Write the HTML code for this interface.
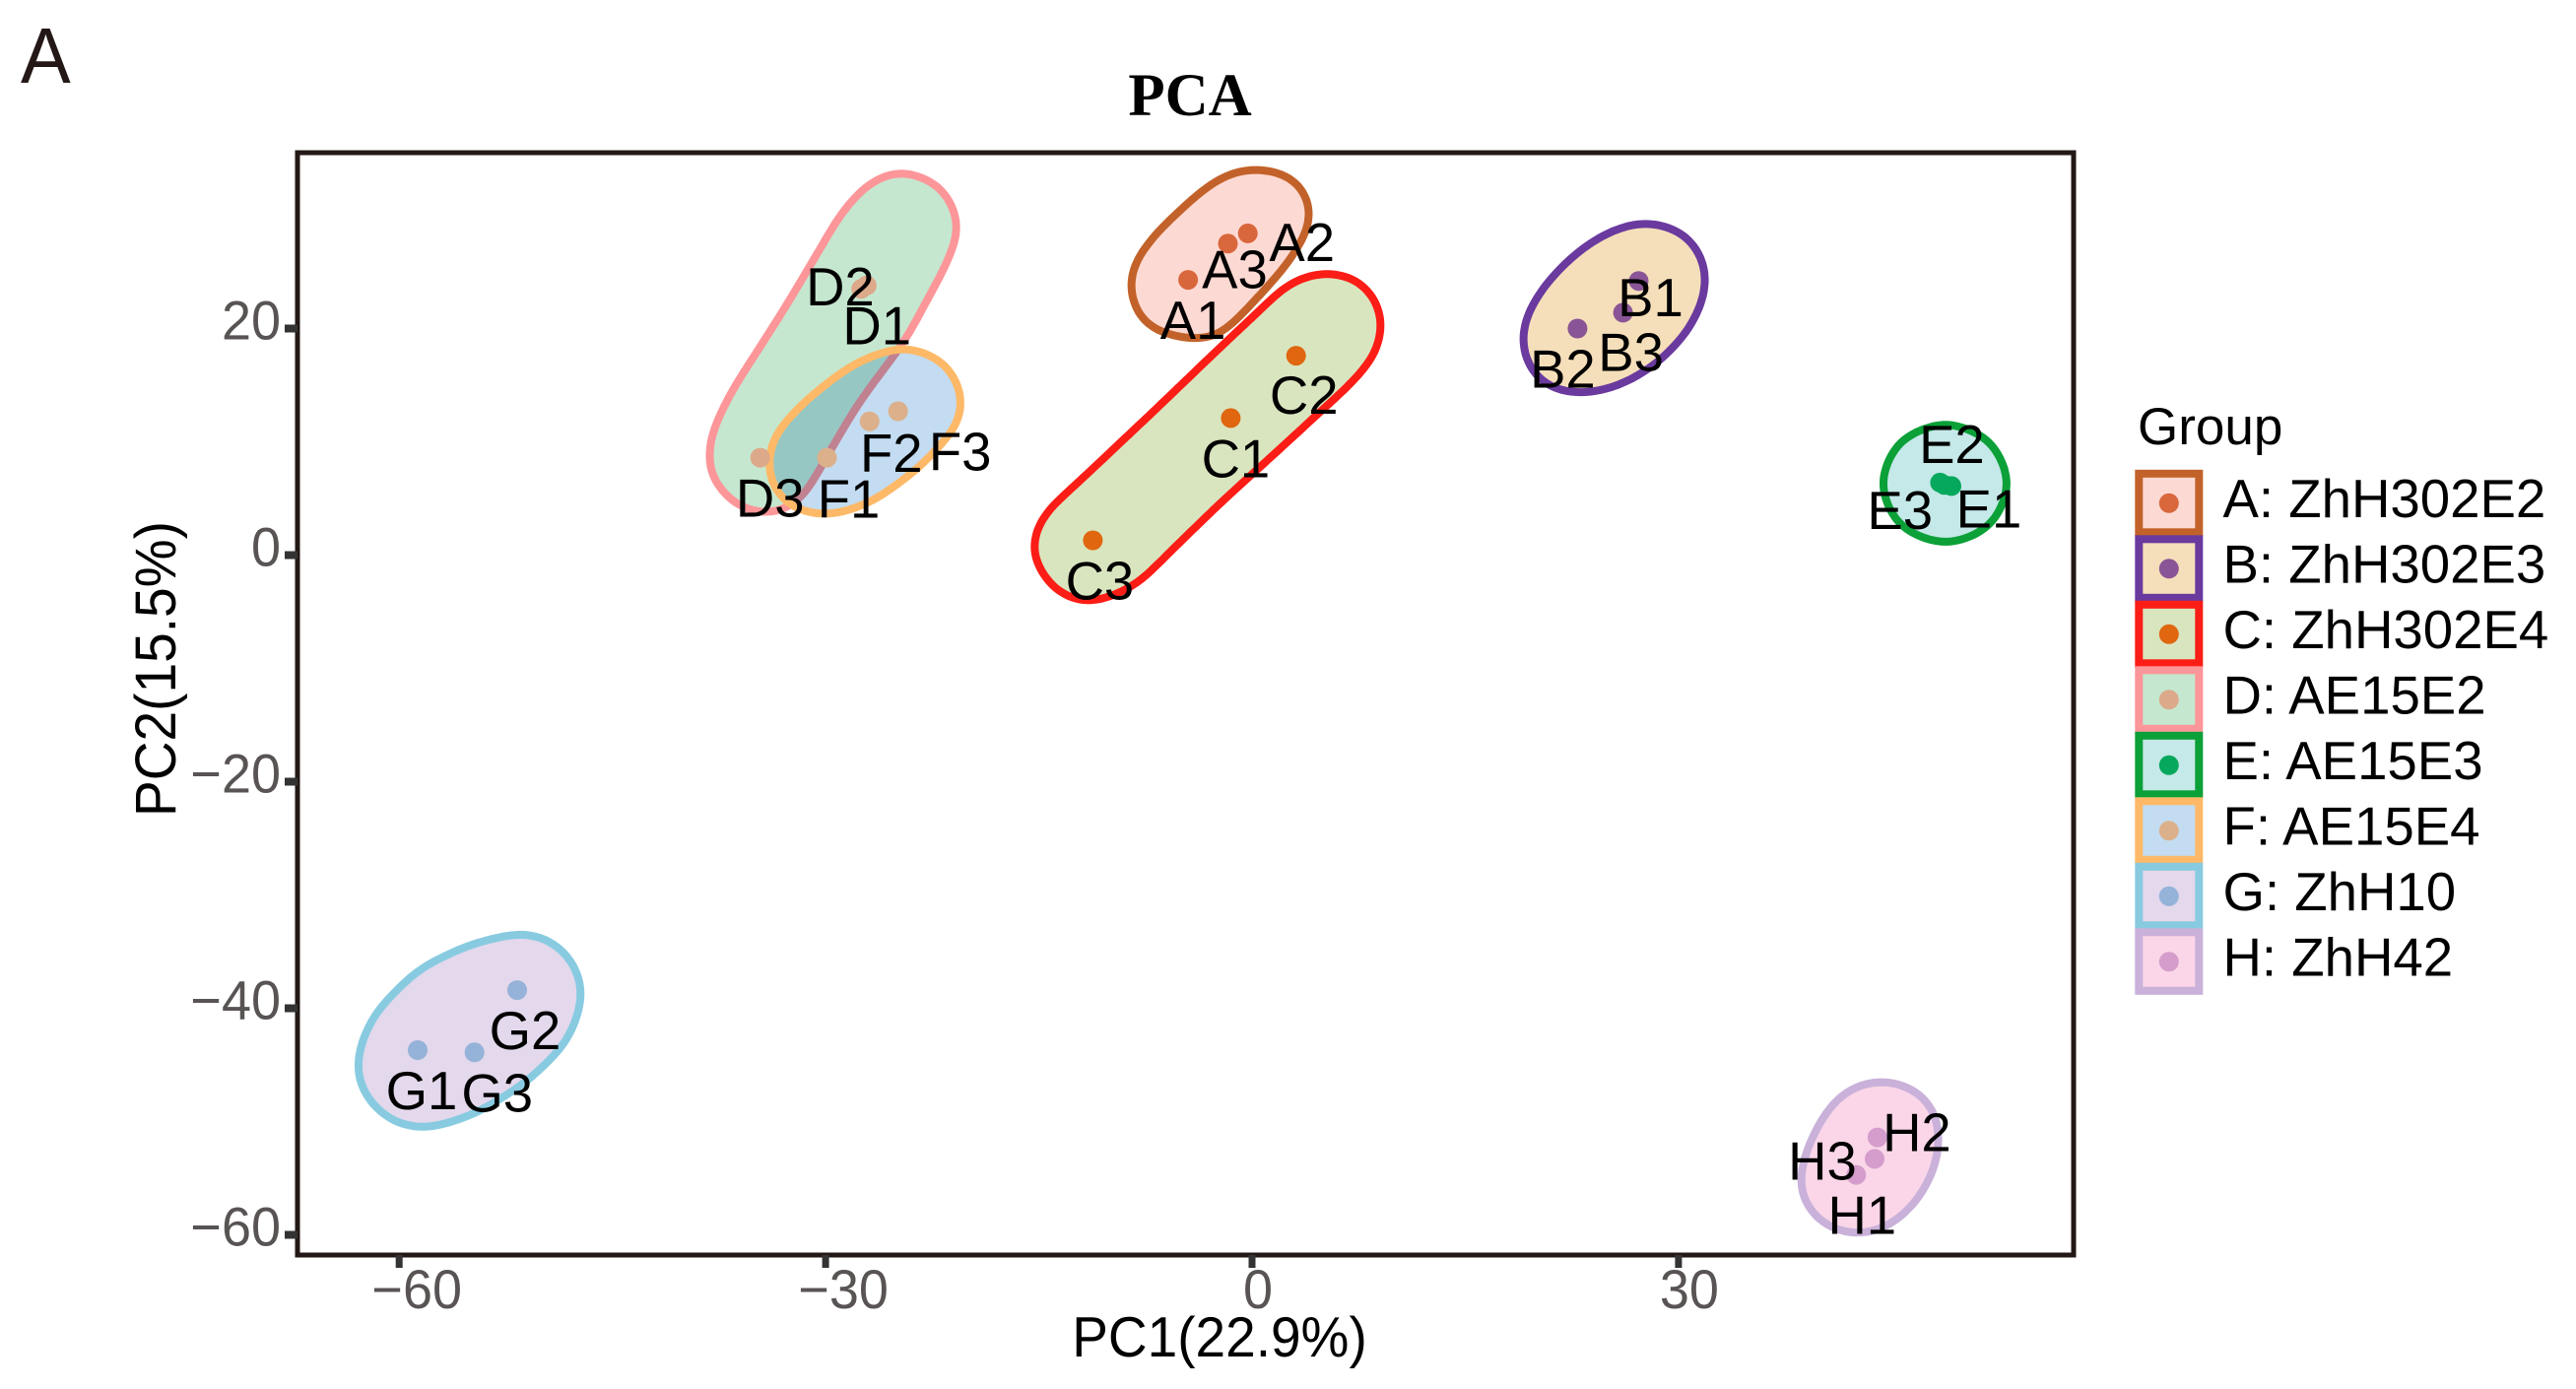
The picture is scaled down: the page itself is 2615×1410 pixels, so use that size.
<!DOCTYPE html>
<html lang="en">
<head>
<meta charset="utf-8">
<title>PCA</title>
<style>
html,body{margin:0;padding:0;background:#fff;width:2615px;height:1410px;overflow:hidden}
svg{display:block}
text{font-family:"Liberation Sans",sans-serif}
</style>
</head>
<body>
<svg id="chart" xmlns="http://www.w3.org/2000/svg" width="2615" height="1410" viewBox="0 0 2615 1410">
  <rect x="0" y="0" width="2615" height="1410" fill="#ffffff"/>
  <text transform="translate(21,84) scale(1,1.05)" font-size="76" fill="#231815">A</text>
  <text x="1208" y="117" font-size="61" font-weight="bold" text-anchor="middle" fill="#000" style="font-family:'Liberation Serif',serif">PCA</text>
  <g id="hulls" style="isolation:isolate"></g>
  <g id="points"></g>
  <g id="labels"></g>
  <rect x="302" y="155" width="1803" height="1119" fill="none" stroke="#231815" stroke-width="5"/>
  <g id="xaxis"></g>
  <g id="yaxis"></g>
  <text transform="translate(1238,1377) scale(1,1.04)" font-size="55" text-anchor="middle" fill="#000">PC1(22.9%)</text>
  <text transform="translate(178,679) rotate(-90) scale(1.02,1.08)" font-size="54" text-anchor="middle" fill="#000">PC2(15.5%)</text>
  <text x="2170" y="451" font-size="53" fill="#000">Group</text>
  <g id="legend"></g>
</svg>
<script>
// ---- data (PC1 %, PC2 %) ----
const groupIds = ['A','B','C','D','E','F','G','H'];
const groupNames = ['A: ZhH302E2','B: ZhH302E3','C: ZhH302E4','D: AE15E2','E: AE15E3','F: AE15E4','G: ZhH10','H: ZhH42'];
const sampleLabels = ['A1','A2','A3','B1','B2','B3','C1','C2','C3','D1','D2','D3','E1','E2','E3','F1','F2','F3','G1','G2','G3','H1','H2','H3'];
const sampleGroups = [0,0,0,1,1,1,2,2,2,3,3,3,4,4,4,5,5,5,6,6,6,7,7,7];
const pc1Values = [-4.5,-0.3,-1.7,27.2,22.9,26.1,-1.5,3.1,-11.2,-27.5,-27.1,-34.6,49.2,48.4,48.7,-29.9,-26.9,-24.9,-58.7,-51.7,-54.7,42.5,44.0,43.8];
const pc2Values = [24.3,28.4,27.5,24.2,20.0,21.4,12.1,17.6,1.3,23.5,23.8,8.6,6.1,6.4,6.2,8.6,11.8,12.7,-43.7,-38.4,-43.9,-54.7,-51.4,-53.3];
const xTicks = [-60,-30,0,30];
const xTickLabels = ['\u221260','\u221230','0','30'];
const yTicks = [20,0,-20,-40,-60];
const yTickLabels = ['20','0','\u221220','\u221240','\u221260'];

// group boundary outlines, in PC1/PC2 units
const hullA = [[0.2,33.9],[2.7,33.3],[3.9,31.1],[3.9,29.1],[2.4,25.8],[0,22.4],[-2.5,19.4],[-4.7,19.3],[-7.3,20.3],[-8.4,22.8],[-8.3,25.4],[-6.6,28.4],[-3.7,31.8],[-1.7,33.5]];
const hullB = [[27.7,29.2],[30.2,28.4],[31.6,26.1],[31.8,23.4],[30.7,20.1],[28.5,17.1],[25.8,15.1],[23.1,14.4],[20.7,15.1],[19.3,17.4],[19.2,20.4],[20.7,23.8],[23.1,26.8],[25.5,28.6]];
const hullC = [[5.1,24.8],[7.5,24.1],[9.0,21.4],[8.7,18.1],[7.0,15.4],[2.7,10.4],[-2.2,4.8],[-8.3,-2.6],[-11.5,-4.1],[-13.9,-2.9],[-15.4,0.4],[-14.6,3.4],[-11.5,7.1],[-6.6,12.9],[-1.7,18.8],[2.7,23.9]];
const hullD = [[-24.6,33.7],[-21.9,32.4],[-20.7,29.0],[-21.7,25.5],[-24.4,19.2],[-27.8,13.4],[-31.7,5.2],[-33.6,3.8],[-36.1,4.4],[-38.0,7.1],[-38.0,10.3],[-36.6,14.2],[-32.7,21.9],[-28.8,30.1],[-26.8,32.8]];
const hullE = [[48.8,11.6],[51.9,10.05],[53.2,6.3],[51.9,2.6],[48.8,1.05],[45.6,2.6],[44.3,6.3],[45.6,10.05]];
const hullF = [[-24.6,18.2],[-21.9,17.1],[-20.6,14.5],[-20.7,11.8],[-23.4,7.9],[-26.8,4.8],[-30.0,3.6],[-32.7,4.6],[-33.9,7.1],[-33.6,10.3],[-31.2,13.7],[-27.8,16.9]];
const hullG = [[-51.8,-33.6],[-49.7,-33.9],[-47.8,-36.1],[-47.2,-39.0],[-48.3,-42.9],[-51.1,-46.4],[-54.7,-49.2],[-58.2,-50.5],[-60.7,-49.7],[-62.6,-47.0],[-62.8,-44.1],[-61.6,-40.5],[-58.6,-36.7],[-55.0,-34.5]];
const hullH = [[44.25,-46.6],[46.0,-47.0],[47.6,-48.5],[48.2,-50.8],[48.0,-53.7],[46.7,-56.9],[44.6,-59.2],[42.4,-59.8],[40.2,-58.9],[38.8,-56.6],[38.7,-54.6],[39.5,-51.4],[41.1,-48.2],[42.8,-46.9]];
// group centres at the time the outlines were read; outlines follow their points
const hullAnchorX = [-2.17,25.4,-3.2,-29.73,48.77,-27.23,-55.03,43.43];
const hullAnchorY = [26.73,21.87,10.33,18.63,6.23,11.03,-42,-53.13];
const hulls = [hullA,hullB,hullC,hullD,hullE,hullF,hullG,hullH];

// ---- styling ----
const fillColors = ['#fdd9d3','#f5dfba','#d9e5bf','#c5e7cf','#c5e8e8','#c3dcf1','#e3d8ec','#fad6e8'];
const strokeColors = ['#c2622a','#6a3a9e','#fb1d16','#fc9699','#0ba038','#fdb968','#88cbe1','#c9b1da'];
const pointColors = ['#d9673c','#8a5596','#e0660f','#dca98a','#05a85c','#dcb08a','#95b2d8','#d49dcb'];
// repelled label placement, pixels from the point (label centre, baseline)
const labelDx = [5,55,7,12,-15,8,5,8,7,16,-27,10,38,12,-45,22,22,63,4,8,23,6,40,-53];
const labelDy = [60,28,45,36,60,59,60,59,60,56,20,60,42,-20,45,61,51,60,60,60,60,60,14,21];
const xTickLabelShift = [18,18,6,11];

// ---- scales ----
function xScale(v){ return 1271 + 14.43 * v; }
function yScale(v){ return 563.5 - 11.5 * v; }

const NS = 'http://www.w3.org/2000/svg';
function make(tag, attrs, parent){
  const el = document.createElementNS(NS, tag);
  for (const k in attrs) el.setAttribute(k, attrs[k]);
  parent.appendChild(el);
  return el;
}
// even spacing along the closed outline
function resampleClosed(pts, step){
  const out = [];
  const n = pts.length;
  let carry = 0;
  for (let i = 0; i < n; i++){
    const a = pts[i], b = pts[(i + 1) % n];
    const len = Math.hypot(b[0] - a[0], b[1] - a[1]);
    let t = carry;
    while (t < len){
      out.push([a[0] + (b[0] - a[0]) * t / len, a[1] + (b[1] - a[1]) * t / len]);
      t += step;
    }
    carry = t - len;
  }
  return out;
}
function gaussClosed(pts, radius){
  const n = pts.length;
  const kernel = [];
  let sum = 0;
  for (let k = -3 * radius; k <= 3 * radius; k++){
    const w = Math.exp(-k * k / (2 * radius * radius));
    kernel.push([k, w]);
    sum += w;
  }
  return pts.map(function(_, i){
    let x = 0, y = 0;
    kernel.forEach(function(kw){
      const p = pts[((i + kw[0]) % n + n) % n];
      x += p[0] * kw[1];
      y += p[1] * kw[1];
    });
    return [x / sum, y / sum];
  });
}
// push the outline outwards along its normal
function offsetClosed(pts, amount){
  const n = pts.length;
  let cx = 0, cy = 0;
  pts.forEach(function(p){ cx += p[0] / n; cy += p[1] / n; });
  return pts.map(function(p, i){
    const a = pts[(i - 2 + n) % n], b = pts[(i + 2) % n];
    const tx = b[0] - a[0], ty = b[1] - a[1];
    const len = Math.hypot(tx, ty) || 1;
    let nx = ty / len, ny = -tx / len;
    if (nx * (p[0] - cx) + ny * (p[1] - cy) < 0){ nx = -nx; ny = -ny; }
    return [p[0] + nx * amount, p[1] + ny * amount];
  });
}
// rounded outline: smooth away vertex corners, then restore the lost size
function roundedPath(pts){
  const even = resampleClosed(pts, 4);
  const s1 = gaussClosed(even, 5);
  const s2 = gaussClosed(s1, 5);
  const res = offsetClosed(s1.map(function(p, i){ return [2 * p[0] - s2[i][0], 2 * p[1] - s2[i][1]]; }), 1.5);
  let d = '';
  res.forEach(function(p, i){
    d += (i ? 'L' : 'M') + p[0].toFixed(1) + ',' + p[1].toFixed(1);
  });
  return d + 'Z';
}

const hullLayer = document.getElementById('hulls');
const pointLayer = document.getElementById('points');
const labelLayer = document.getElementById('labels');
const xLayer = document.getElementById('xaxis');
const yLayer = document.getElementById('yaxis');
const legendLayer = document.getElementById('legend');

// group outlines
groupIds.forEach(function(id, g){
  let sx = 0, sy = 0, count = 0;
  sampleGroups.forEach(function(sg, i){
    if (sg === g){ sx += pc1Values[i]; sy += pc2Values[i]; count++; }
  });
  const shiftX = sx / count - hullAnchorX[g];
  const shiftY = sy / count - hullAnchorY[g];
  const pts = hulls[g].map(function(p){ return [xScale(p[0] + shiftX), yScale(p[1] + shiftY)]; });
  const d = roundedPath(pts);
  const fill = make('path', {d: d, fill: fillColors[g], stroke: 'none', style: 'mix-blend-mode:multiply'}, hullLayer);
  
  
  const line = make('path', {d: d, fill: 'none', stroke: strokeColors[g], 'stroke-width': 8, 'stroke-linejoin': 'round'}, hullLayer);
  
  
});

// points and labels
sampleLabels.forEach(function(name, i){
  const cx = xScale(pc1Values[i]);
  const cy = yScale(pc2Values[i]);
  const dot = make('circle', {cx: cx.toFixed(1), cy: cy.toFixed(1), r: 10, fill: pointColors[sampleGroups[i]]}, pointLayer);
  
  
  const tx = cx + labelDx[i];
  const ty = cy + labelDy[i];
  const label = make('text', {x: tx.toFixed(1), y: ty.toFixed(1), 'font-size': 54.5, 'text-anchor': 'middle', fill: '#000'}, labelLayer);
  label.textContent = name;
  
  
});

// x axis
xTicks.forEach(function(v, i){
  const px = xScale(v);
  const tick = make('rect', {x: (px - 3.5).toFixed(1), y: 1274, width: 7, height: 13, fill: '#333333'}, xLayer);
  
  
  const label = make('text', {transform: 'translate(' + (px + xTickLabelShift[i]).toFixed(1) + ',1328) scale(1,1.03)', 'font-size': 54, 'text-anchor': 'middle', fill: '#595454'}, xLayer);
  label.textContent = xTickLabels[i];
  
  
});

// y axis
yTicks.forEach(function(v, i){
  const py = yScale(v);
  const tick = make('rect', {x: 289, y: (py - 4).toFixed(1), width: 13, height: 8, fill: '#333333'}, yLayer);
  
  
  const label = make('text', {transform: 'translate(285,' + (py + 11).toFixed(1) + ') scale(1,1.03)', 'font-size': 54, 'text-anchor': 'end', fill: '#595454'}, yLayer);
  label.textContent = yTickLabels[i];
  
  
});

// legend
groupNames.forEach(function(name, g){
  const top = 476.8 + g * 66.5;
  const entry = make('g', {}, legendLayer);
  
  
  const key = make('rect', {x: 2171.3, y: (top + 4).toFixed(1), width: 61, height: 59.5, fill: fillColors[g], stroke: strokeColors[g], 'stroke-width': 8}, entry);
  
  
  const dot = make('circle', {cx: 2201.8, cy: (top + 34).toFixed(1), r: 10, fill: pointColors[g]}, entry);
  
  
  const label = make('text', {x: 2256.5, y: (top + 48.4).toFixed(1), 'font-size': 54.6, fill: '#000'}, entry);
  label.textContent = name;
  
  
});
</script>
</body>
</html>
